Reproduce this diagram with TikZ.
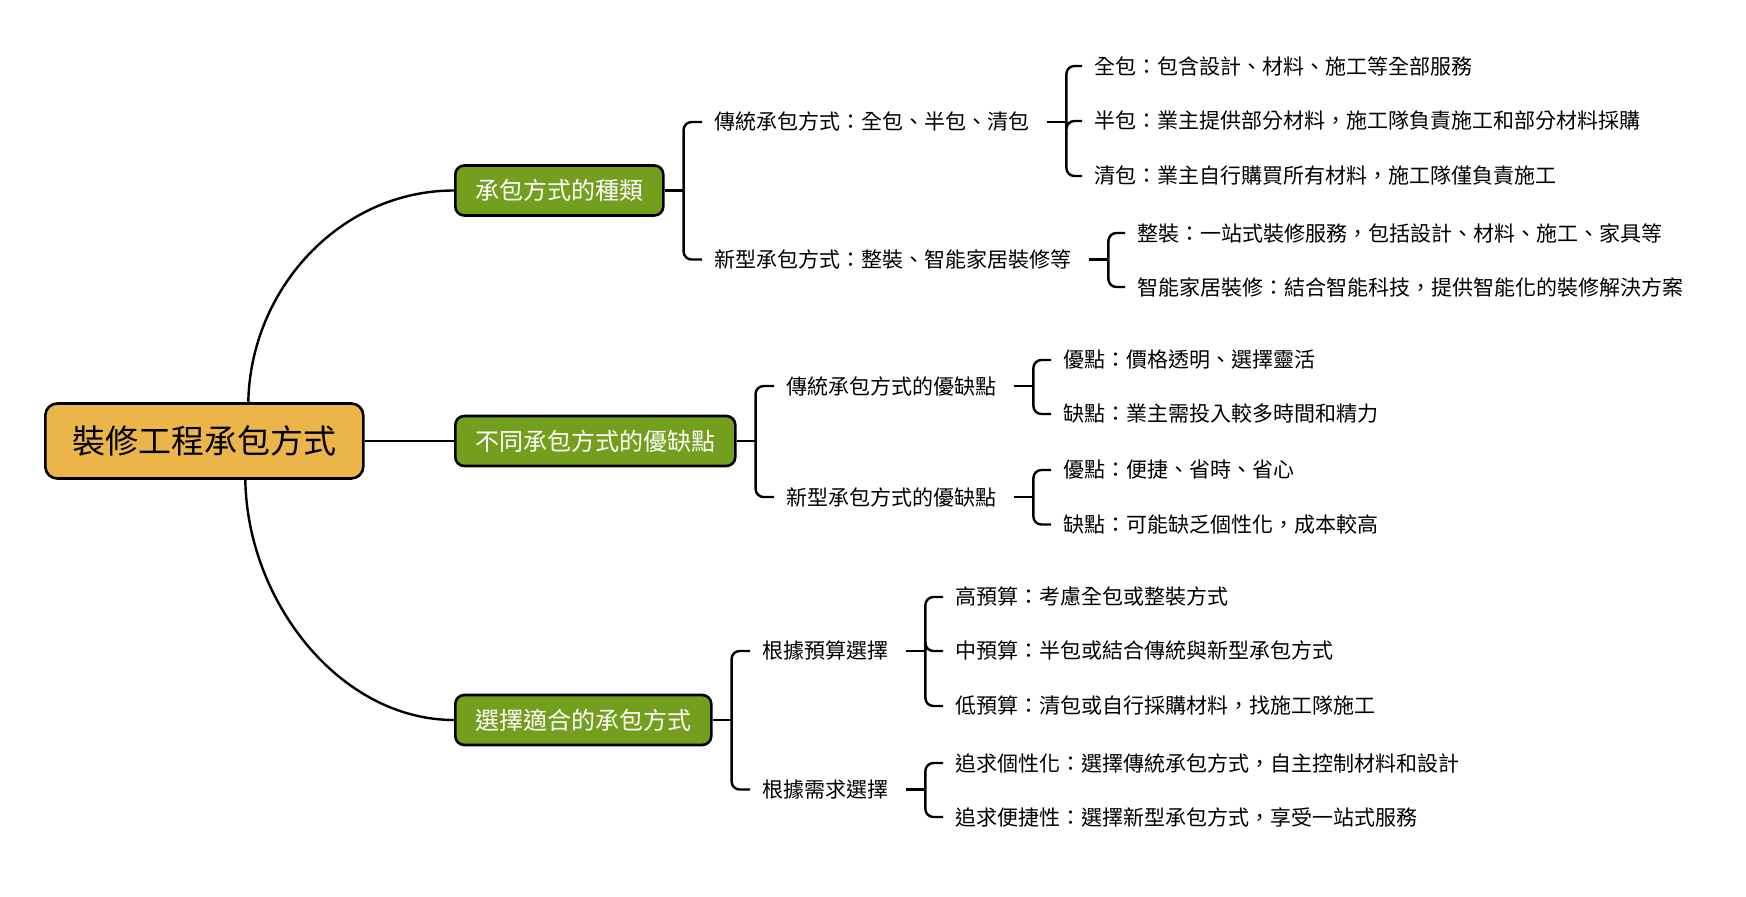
\documentclass[tikz,border=0pt]{standalone}
\usepackage{fontspec}
\newfontfamily\cjkfont{Noto Sans CJK TC}
\usetikzlibrary{positioning}
\definecolor{rootgold}{HTML}{EBB54A}
\definecolor{branchgreen}{HTML}{739E1E}

\begin{document}
\begin{tikzpicture}[x=1pt,y=-1pt,font=\cjkfont,
  link/.style={line width=2.4pt,black},
  brace/.style={link,rounded corners=8pt},
  rootbox/.style={draw,line width=2.6pt,fill=rootgold,rounded corners=12pt,
    minimum height=75pt,inner xsep=27pt,anchor=west,
    font=\cjkfont\fontsize{33}{38}\selectfont},
  topicbox/.style={draw,line width=2.6pt,fill=branchgreen,rounded corners=9pt,
    minimum height=50pt,inner xsep=20pt,anchor=west,text=white,
    font=\cjkfont\fontsize{24}{28}\selectfont},
  leaf/.style={inner sep=0pt,anchor=west,font=\cjkfont\fontsize{21}{25}\selectfont}]
  \useasboundingbox (0,0) rectangle (1746,897);

  \node[rootbox] (root) at (44,441) {裝修工程承包方式};
  \node[topicbox] (kinds) at (454,190.5) {承包方式的種類};
  \node[topicbox] (pros) at (454,441) {不同承包方式的優缺點};
  \node[topicbox] (choose) at (454,720) {選擇適合的承包方式};

  \node[leaf] (trad) at (714,122) {傳統承包方式：全包、半包、清包};
  \node[leaf] (newt) at (714,259.5) {新型承包方式：整裝、智能家居裝修等};
  \node[leaf] (tradpc) at (786,386) {傳統承包方式的優缺點};
  \node[leaf] (newpc) at (786,497) {新型承包方式的優缺點};
  \node[leaf] (budget) at (762,651) {根據預算選擇};
  \node[leaf] (needs) at (762,789.5) {根據需求選擇};

  \node[leaf] (full) at (1094,66) {全包：包含設計、材料、施工等全部服務};
  \node[leaf] (half) at (1094,121) {半包：業主提供部分材料，施工隊負責施工和部分材料採購};
  \node[leaf] (labor) at (1094,176) {清包：業主自行購買所有材料，施工隊僅負責施工};
  \node[leaf] (whole) at (1137,233) {整裝：一站式裝修服務，包括設計、材料、施工、家具等};
  \node[leaf] (smart) at (1137,287) {智能家居裝修：結合智能科技，提供智能化的裝修解決方案};
  \node[leaf] (tpro) at (1063,360) {優點：價格透明、選擇靈活};
  \node[leaf] (tcon) at (1063,414) {缺點：業主需投入較多時間和精力};
  \node[leaf] (npro) at (1063,470) {優點：便捷、省時、省心};
  \node[leaf] (ncon) at (1063,524.5) {缺點：可能缺乏個性化，成本較高};
  \node[leaf] (high) at (955,597) {高預算：考慮全包或整裝方式};
  \node[leaf] (mid) at (955,651) {中預算：半包或結合傳統與新型承包方式};
  \node[leaf] (low) at (955,706) {低預算：清包或自行採購材料，找施工隊施工};
  \node[leaf] (own) at (955,763) {追求個性化：選擇傳統承包方式，自主控制材料和設計};
  \node[leaf] (easy) at (955,817) {追求便捷性：選擇新型承包方式，享受一站式服務};

  % root to topics
  \draw[link] (root.east) -- (pros.west);
  \draw[link] ([xshift=44pt]root.north) .. controls +(2,-113) and +(-114,0) .. (kinds.west);
  \draw[link] ([xshift=41pt]root.south) .. controls +(2,122) and +(-114,0) .. (choose.west);

  % brackets
  \draw[link] (kinds.east) -- ++(19,0) coordinate (kkinds);
  \draw[link] (pros.east) -- ++(19,0) coordinate (kpros);
  \draw[link] (choose.east) -- ++(19,0) coordinate (kchoose);
  \draw[link] ([xshift=18pt]trad.east) -- ++(19,0) coordinate (ktrad);
  \draw[link] ([xshift=18pt]newt.east) -- ++(19,0) coordinate (knewt);
  \draw[link] ([xshift=18pt]tradpc.east) -- ++(19,0) coordinate (ktradpc);
  \draw[link] ([xshift=18pt]newpc.east) -- ++(19,0) coordinate (knewpc);
  \draw[link] ([xshift=18pt]budget.east) -- ++(19,0) coordinate (kbudget);
  \draw[link] ([xshift=18pt]needs.east) -- ++(19,0) coordinate (kneeds);

  \foreach \c in {trad,newt} \draw[brace] (kkinds) |- ([xshift=-12pt]\c.west);
  \foreach \c in {tradpc,newpc} \draw[brace] (kpros) |- ([xshift=-12pt]\c.west);
  \foreach \c in {budget,needs} \draw[brace] (kchoose) |- ([xshift=-12pt]\c.west);
  \foreach \c in {full,half,labor} \draw[brace] (ktrad) |- ([xshift=-12pt]\c.west);
  \foreach \c in {whole,smart} \draw[brace] (knewt) |- ([xshift=-12pt]\c.west);
  \foreach \c in {tpro,tcon} \draw[brace] (ktradpc) |- ([xshift=-12pt]\c.west);
  \foreach \c in {npro,ncon} \draw[brace] (knewpc) |- ([xshift=-12pt]\c.west);
  \foreach \c in {high,mid,low} \draw[brace] (kbudget) |- ([xshift=-12pt]\c.west);
  \foreach \c in {own,easy} \draw[brace] (kneeds) |- ([xshift=-12pt]\c.west);
\end{tikzpicture}
\end{document}
